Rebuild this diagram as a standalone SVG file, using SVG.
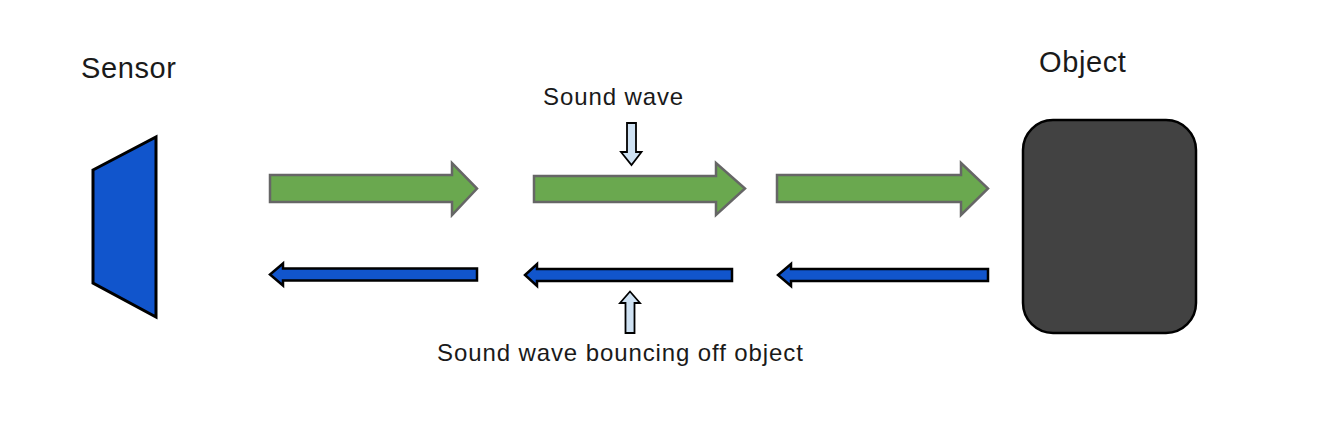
<svg xmlns="http://www.w3.org/2000/svg" width="1336" height="436" viewBox="0 0 1336 436">
<style>
.lbl{font-family:"Liberation Sans",Arial,sans-serif;fill:#1a1a1a}
.big{font-size:29px;letter-spacing:0.6px}
.small{font-size:24px;letter-spacing:0.9px}
.green{fill:#6aa84f;stroke:#666666;stroke-width:2.5;stroke-linejoin:miter}
.blue{fill:#1155cc;stroke:#000000;stroke-width:2.5;stroke-linejoin:miter}
.pale{fill:#cfe2f3;stroke:#000000;stroke-width:1.8;stroke-linejoin:miter}
</style>
<rect width="1336" height="436" fill="#ffffff"/>
<g id="sensor">
<text class="lbl big" x="81" y="78">Sensor</text>
<polygon points="93,170 156,137 156,317 93,283" fill="#1155cc" stroke="#000000" stroke-width="3" stroke-linejoin="miter"/>
</g>
<g id="object">
<text class="lbl big" x="1039" y="72">Object</text>
<rect x="1023" y="120" width="173" height="213" rx="30" ry="30" fill="#424242" stroke="#000000" stroke-width="2.5"/>
</g>
<g id="label-sound-wave">
<text class="lbl small" x="543" y="105">Sound wave</text>
</g>
<g id="label-bounce">
<text class="lbl small" x="437" y="361">Sound wave bouncing off object</text>
</g>
<g id="connectors">
<polygon class="green" points="270,175 452,175 452,163 477,188.5 452,215 452,202 270,202"/>
<polygon class="green" points="534,176 716,176 716,163 745,188.5 716,215 716,202 534,202"/>
<polygon class="green" points="777,175 961,175 961,163 988,188.5 961,215 961,202 777,202"/>
<polygon class="blue" points="477,268.5 283,268.5 283,263.5 270,274.5 283,285.5 283,280.5 477,280.5"/>
<polygon class="blue" points="732,269 537,269 537,264 525,275 537,286 537,281 732,281"/>
<polygon class="blue" points="988,269 791,269 791,264 778,275 791,286 791,281 988,281"/>
<polygon class="pale" points="627,123 636,123 636,152 641.5,152 631.5,165 621,152 627,152"/>
<polygon class="pale" points="625.5,333 634.5,333 634.5,303 640,303 630,291.5 620,303 625.5,303"/>
</g>
</svg>
